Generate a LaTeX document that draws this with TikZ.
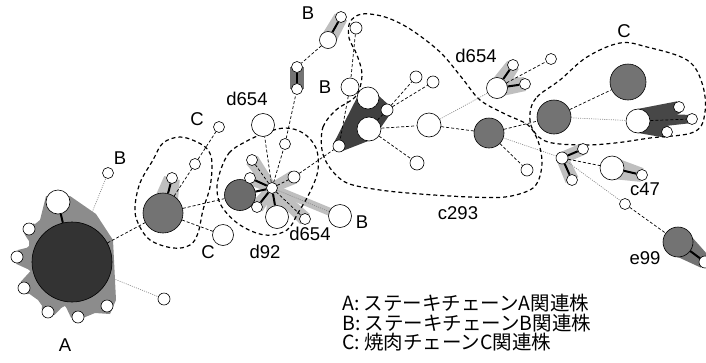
\documentclass[tikz,border=0pt]{standalone}
\usepackage{fontspec}
\setmainfont{Liberation Sans}
\newfontfamily\jpfont{Noto Sans CJK JP}
\usetikzlibrary{calc}
\pgfdeclarelayer{bg}
\pgfsetlayers{bg,main}

% shaded wedge from #2 (half width #3) to #4 (half width #5)
\newcommand\halo[5]{\fill[#1] ($(#2)!#3!90:(#4)$) -- ($(#4)!#5!-90:(#2)$) -- ($(#4)!#5!90:(#2)$) -- ($(#2)!#3!-90:(#4)$) -- cycle;}

\tikzset{
  nd/.style={circle,draw=black,line width=0.6pt,fill=white,inner sep=0pt,minimum size=#1},
  gnd/.style={nd=#1,fill=black!55},
  dsh/.style={line width=0.7pt,dash pattern=on 3pt off 2pt},
  dtt/.style={line width=0.7pt,black!45,dash pattern=on 1pt off 1.2pt},
  thk/.style={line width=2pt},
  encl/.style={line width=1.2pt,dash pattern=on 4pt off 3pt},
  lbl/.style={font=\fontsize{18.5}{20}\selectfont,inner sep=0pt},
  lgd/.style={font=\jpfont\fontsize{19.5}{21}\selectfont,inner sep=0pt,anchor=west},
  lighthalo/.style={black!25},
  darkhalo/.style={black!75}
}

\begin{document}
\begin{tikzpicture}[x=1pt,y=-1pt]
\useasboundingbox (0,0) rectangle (706,362);

% ---- group A ----
\node[nd=80pt,fill=black!80] (A) at (72,262) {};
\node[nd=24pt] (a1) at (58,202) {};
\node[nd=12pt] (a2) at (29,229) {};
\node[nd=12pt] (a3) at (17,257) {};
\node[nd=12pt] (a4) at (24,288) {};
\node[nd=12pt] (a5) at (48,312) {};
\node[nd=12pt] (a6) at (78,317) {};
\node[nd=12pt] (a7) at (107,306) {};
\node[nd=12pt] (a8) at (164,299) {};
\node[nd=11pt] (b1) at (108,173) {};

% ---- left C group ----
\node[gnd=40pt] (c1) at (163,213) {};
\node[nd=11pt] (c2) at (172,178) {};
\node[nd=11pt] (c3) at (195,164) {};
\node[nd=11pt] (c4) at (219,127) {};
\node[nd=21pt] (c5) at (223,235) {};

% ---- d92 group ----
\node[gnd=31pt,fill=black!58] (d1) at (240,195) {};
\node[nd=11pt] (h) at (272,188) {};
\node[nd=11pt] (d2) at (252,160) {};
\node[nd=11pt] (d3) at (250,178) {};
\node[nd=11pt] (d4) at (257,207) {};
\node[nd=12pt] (d5) at (294,177) {};
\node[nd=11pt] (d6) at (285,144) {};
\node[nd=23pt] (d7) at (263,125) {};
\node[nd=23pt] (d8) at (277,217) {};
\node[nd=11pt] (d9) at (305,219) {};
\node[nd=23pt] (d10) at (340,216) {};

% ---- upper B group ----
\node[nd=17pt] (t1) at (328,40) {};
\node[nd=11pt] (t2) at (341,17) {};
\node[nd=11pt] (t3) at (297,67) {};
\node[nd=11pt] (t4) at (297,89) {};
\node[nd=12pt] (t5) at (356,28) {};
\node[nd=18pt] (t6) at (350,87) {};

% ---- c293 group ----
\node[nd=12pt] (n1) at (339,146) {};
\node[nd=22pt] (n2) at (368,98) {};
\node[nd=24pt] (n3) at (369,129) {};
\node[nd=12pt] (n4) at (387,110) {};
\node[nd=12pt] (n5) at (416,77) {};
\node[nd=12pt] (n6) at (433,82) {};
\node[nd=24pt] (n7) at (429,125) {};
\node[nd=14pt] (n8) at (417,163) {};
\node[gnd=30pt] (cg) at (489,133) {};
\node[nd=12pt] (n9) at (527,170) {};

% ---- d654 group ----
\node[nd=21pt] (dw) at (497,88) {};
\node[nd=11pt] (dp) at (513,65) {};
\node[nd=11pt] (dq) at (525,84) {};
\node[nd=11pt] (dr) at (551,59) {};

% ---- right C group ----
\node[gnd=34pt] (r1) at (554,117) {};
\node[gnd=36pt] (r2) at (628,82) {};
\node[nd=24pt] (r3) at (638,121) {};
\node[nd=11pt] (r4) at (679,107) {};
\node[nd=11pt] (r5) at (667,132) {};
\node[nd=11pt] (r6) at (692,119) {};

% ---- c47 / e99 ----
\node[nd=12pt] (k) at (562,158) {};
\node[nd=11pt] (k1) at (583,149) {};
\node[nd=11pt] (k2) at (572,180) {};
\node[nd=24pt] (w) at (612,168) {};
\node[nd=11pt] (w1) at (642,175) {};
\node[nd=11pt] (e1) at (625,204) {};
\node[gnd=30pt] (eg) at (678,242) {};
\node[nd=12pt] (ew) at (705,262) {};

\begin{pgfonlayer}{bg}
  % shaded halos
  \fill[black!45] (46,196) -- (70,196) -- (96,214) -- (113,240) -- (116,300) -- (110,314)
    -- (95,313) -- (78,320) -- (65,306) -- (48,314) -- (38,300) -- (24,290) -- (31,272)
    -- (17,257) -- (29,246) -- (29,229) -- (40,220) -- cycle;
  \halo{black!45}{A}{36pt}{a1}{12pt}
  \foreach \s in {a2,a3,a4,a5,a6,a7} {\halo{black!45}{A}{26pt}{\s}{7pt}}
  \halo{lighthalo}{c1}{14pt}{c2}{8pt}
  \foreach \s in {d2,d3,d4,d5,d9} {\halo{lighthalo}{h}{5pt}{\s}{7pt}}
  \halo{lighthalo}{h}{5pt}{d8}{11pt}
  \halo{lighthalo}{h}{4pt}{d10}{4pt}
  \halo{lighthalo}{t1}{8pt}{t2}{7pt}
  \halo{black!55}{t3}{7pt}{t4}{7pt}
  \halo{darkhalo}{n1}{6pt}{n2}{10pt}
  \halo{darkhalo}{n1}{6pt}{n3}{11pt}
  \fill[darkhalo] (n1.center) -- (n2.center) -- (n4.center) -- (n3.center) -- cycle;
  \halo{darkhalo}{n4}{5pt}{n2}{9pt}
  \halo{darkhalo}{n4}{5pt}{n3}{9pt}
  \halo{lighthalo}{dw}{9pt}{dp}{7pt}
  \halo{lighthalo}{dw}{9pt}{dq}{7pt}
  \halo{black!72}{r3}{12pt}{r4}{6pt}
  \halo{black!72}{r3}{12pt}{r5}{6pt}
  \halo{black!72}{r3}{8pt}{r6}{4pt}
  \halo{lighthalo}{k}{6pt}{k1}{6pt}
  \halo{lighthalo}{k}{6pt}{k2}{7pt}
  \halo{lighthalo}{w}{11pt}{w1}{7pt}
  \halo{black!55}{eg}{14pt}{ew}{7pt}

  % dashed enclosures
  \draw[encl] plot[smooth cycle,tension=0.6] coordinates {(135,207) (140,183) (153,160) (163,143) (180,137) (197,142) (208,150) (212,163) (210,187) (203,210) (198,233) (190,245) (173,248) (150,240) (138,223)};
  \draw[encl] plot[smooth cycle,tension=0.6] coordinates {(220,172) (229,153) (245,142) (265,133) (285,128) (303,133) (316,148) (318,170) (310,192) (298,213) (287,230) (265,235) (240,225) (222,207) (217,190)};
  \draw[encl] plot[smooth cycle,tension=0.55] coordinates {(322,150) (323,127) (336,110) (356,96) (362,75) (357,55) (349,38) (350,22) (362,14) (385,17) (410,29) (440,52) (462,78) (480,100) (505,114) (528,125) (538,141) (542,161) (539,179) (530,190) (505,197) (470,197) (420,194) (380,190) (347,183) (330,168)};
  \draw[encl] plot[smooth cycle,tension=0.6] coordinates {(530,113) (537,97) (560,80) (587,57) (620,43) (647,47) (687,60) (702,83) (705,112) (694,132) (650,138) (615,143) (583,145) (548,142) (533,130)};

  % connectors
  \draw[dtt] (A) -- (b1);
  \draw[dtt] (A) -- (a8);
  \draw[thk] (A) -- (a1);
  \draw[dsh] (A) -- (c1);
  \draw[thk] (c1) -- (c2);
  \draw[dsh] (c1) -- (c3);
  \draw[dsh] (c3) -- (c4);
  \draw[dsh] (c1) -- (c5);
  \draw[dsh] (c1) -- (d1);
  \draw[thk] (d1) -- (h);
  \draw[thk] (h) -- (d3);
  \draw[thk] (h) -- (d4);
  \draw[thk] (h) -- (d8);
  \draw[dsh] (h) -- (d2);
  \draw[dsh] (h) -- (d7);
  \draw[dsh] (h) -- (d6);
  \draw[dsh] (h) -- (d5);
  \draw[dsh] (h) -- (d9);
  \draw[dtt] (h) -- (d10);
  \draw[dsh] (d6) -- (t4);
  \draw[thk] (t3) -- (t4);
  \draw[dsh] (t1) -- (t3);
  \draw[thk] (t1) -- (t2);
  \draw[dsh] (t5) -- (t6);
  \draw[dsh] (t6) -- (n1);
  \draw[dsh] (d5) -- (n1);
  \draw[dsh] (n3) -- (n4);
  \draw[dsh] (n4) -- (n5);
  \draw[dsh] (n4) -- (n6);
  \draw[dsh] (n3) -- (n7);
  \draw[dsh] (n3) -- (n8);
  \draw[dsh] (n7) -- (cg);
  \draw[dtt] (n7) -- (dw);
  \draw[thk] (dw) -- (dp);
  \draw[thk] (dw) -- (dq);
  \draw[dsh] (dw) -- (dr);
  \draw[dsh] (cg) -- (n9);
  \draw[dsh] (cg) -- (r1);
  \draw[dtt] (cg) -- (k);
  \draw[dsh] (r1) -- (r2);
  \draw[dtt] (r1) -- (r3);
  \draw[dsh] (r3) -- (r6);
  \draw[thk] (k) -- (k1);
  \draw[thk] (k) -- (k2);
  \draw[dsh] (k) -- (w);
  \draw[thk] (w) -- (w1);
  \draw[dtt] (k) -- (e1);
  \draw[dsh] (e1) -- (eg);
  \draw[thk] (eg) -- (ew);
\end{pgfonlayer}

% group labels
\node[lbl] (lA) at (65,345) {A};
\node[lbl] (lB1) at (120,158) {B};
\node[lbl] (lC1) at (197,119) {C};
\node[lbl] (lC2) at (208,252) {C};
\node[lbl] (ld92) at (265,252) {d92};
\node[lbl] (ld654a) at (247,99) {d654};
\node[lbl] (ld654b) at (310,234) {d654};
\node[lbl] (lB2) at (362,222) {B};
\node[lbl] (lB3) at (308,13) {B};
\node[lbl] (lB4) at (325,87) {B};
\node[lbl] (ld654c) at (476,56) {d654};
\node[lbl] (lc293) at (458,213) {c293};
\node[lbl] (lC3) at (624,31) {C};
\node[lbl] (lc47) at (645,189) {c47};
\node[lbl] (le99) at (645,258) {e99};

% legend
\node[lgd] (g1) at (342,303) {A: ステーキチェーンA関連株};
\node[lgd] (g2) at (342,323) {B: ステーキチェーンB関連株};
\node[lgd] (g3) at (342,342) {C: 焼肉チェーンC関連株};
\end{tikzpicture}
\end{document}
